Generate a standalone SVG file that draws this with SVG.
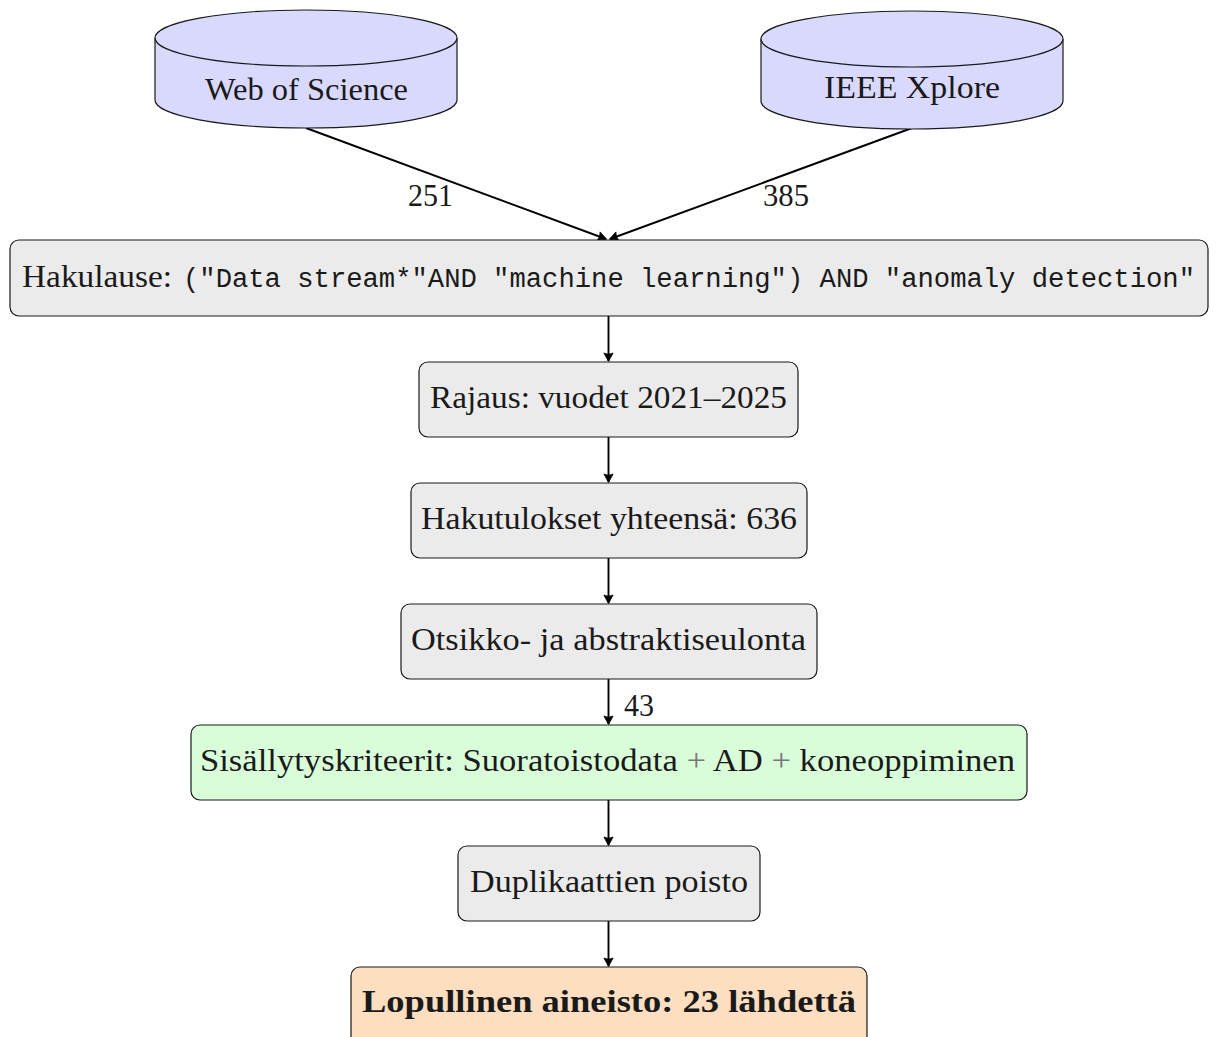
<svg xmlns="http://www.w3.org/2000/svg" width="1216" height="1037" viewBox="0 0 1216 1037">
<defs>
<style>
.t{font-family:"Liberation Serif","Times New Roman",serif;font-size:31px;fill:#1a1a1a}
.m{font-family:"Liberation Mono","Courier New",monospace;font-size:27px;fill:#1a1a1a}
.box{stroke:#1a1a1a;stroke-width:1.2}
.g{fill:#ebebeb}
.cyl{fill:#d9d9fe;stroke:#1a1a1a;stroke-width:1.2}
.c{fill:none;stroke:#000;stroke-width:1.9}
</style>
<marker id="ah" markerUnits="userSpaceOnUse" viewBox="-10 -6 12 12" refX="0" refY="0" markerWidth="12" markerHeight="12" orient="auto">
<path d="M0.5,0 L-8,-4.6 Q-5.5,0 -8,4.6 Z" fill="#000" stroke="#000" stroke-width="0.8" stroke-linejoin="round"/>
</marker>
</defs>
<g id="connectors">
<line class="c" x1="306" y1="128" x2="606" y2="239" marker-end="url(#ah)"/>
<line class="c" x1="912" y1="128" x2="610" y2="239" marker-end="url(#ah)"/>
<text class="t" x="408" y="206" textLength="45" lengthAdjust="spacingAndGlyphs">251</text>
<text class="t" x="763" y="206" textLength="46" lengthAdjust="spacingAndGlyphs">385</text>
<line class="c" x1="608.5" y1="316" x2="608.5" y2="361" marker-end="url(#ah)"/>
<line class="c" x1="608.5" y1="437" x2="608.5" y2="482" marker-end="url(#ah)"/>
<line class="c" x1="608.5" y1="558" x2="608.5" y2="603" marker-end="url(#ah)"/>
<line class="c" x1="608.5" y1="679" x2="608.5" y2="724" marker-end="url(#ah)"/>
<text class="t" x="624" y="716" textLength="30" lengthAdjust="spacingAndGlyphs">43</text>
<line class="c" x1="608.5" y1="800" x2="608.5" y2="845" marker-end="url(#ah)"/>
<line class="c" x1="608.5" y1="921" x2="608.5" y2="966" marker-end="url(#ah)"/>
</g>
<g id="wos">
<path class="cyl" d="M155,38 L155,100 A151,28 0 0 0 457,100 L457,38 A151,28 0 0 0 155,38 Z"/>
<path class="cyl" d="M155,38 A151,28 0 0 0 457,38"/>
<text class="t" x="205" y="100" textLength="203" lengthAdjust="spacingAndGlyphs">Web of Science</text>
</g>
<g id="ieee">
<path class="cyl" d="M761,39 L761,101 A151,28 0 0 0 1063,101 L1063,39 A151,28 0 0 0 761,39 Z"/>
<path class="cyl" d="M761,39 A151,28 0 0 0 1063,39"/>
<text class="t" x="824" y="98" textLength="176" lengthAdjust="spacingAndGlyphs">IEEE Xplore</text>
</g>
<g id="hakulause">
<rect class="box g" x="10" y="240" width="1198" height="76" rx="9"/>
<text class="t" x="22" y="287" textLength="150" lengthAdjust="spacingAndGlyphs">Hakulause:</text>
<text class="m" x="183" y="287" textLength="1012" lengthAdjust="spacingAndGlyphs">("Data stream*"AND "machine learning") AND "anomaly detection"</text>
</g>
<g id="rajaus">
<rect class="box g" x="419" y="362" width="379" height="75" rx="9"/>
<text class="t" x="430" y="408" textLength="357" lengthAdjust="spacingAndGlyphs">Rajaus: vuodet 2021–2025</text>
</g>
<g id="hakutulokset">
<rect class="box g" x="411" y="483" width="396" height="75" rx="9"/>
<text class="t" x="421" y="529" textLength="376" lengthAdjust="spacingAndGlyphs">Hakutulokset yhteensä: 636</text>
</g>
<g id="otsikko">
<rect class="box g" x="401" y="604" width="416" height="75" rx="9"/>
<text class="t" x="411" y="650" textLength="395" lengthAdjust="spacingAndGlyphs">Otsikko- ja abstraktiseulonta</text>
</g>
<g id="sisallytys">
<rect class="box" fill="#d9fdd9" x="191" y="725" width="836" height="75" rx="9"/>
<text class="t" x="200" y="771" textLength="815" lengthAdjust="spacingAndGlyphs">Sisällytyskriteerit: Suoratoistodata <tspan fill="#777">+</tspan> AD <tspan fill="#777">+</tspan> koneoppiminen</text>
</g>
<g id="duplikaatit">
<rect class="box g" x="458" y="846" width="302" height="75" rx="9"/>
<text class="t" x="470" y="892" textLength="278" lengthAdjust="spacingAndGlyphs">Duplikaattien poisto</text>
</g>
<g id="lopullinen">
<rect class="box" fill="#fddec0" x="351" y="967" width="516" height="80" rx="9"/>
<text class="t" x="362" y="1012" textLength="494" lengthAdjust="spacingAndGlyphs" font-weight="bold">Lopullinen aineisto: 23 lähdettä</text>
</g>
</svg>
